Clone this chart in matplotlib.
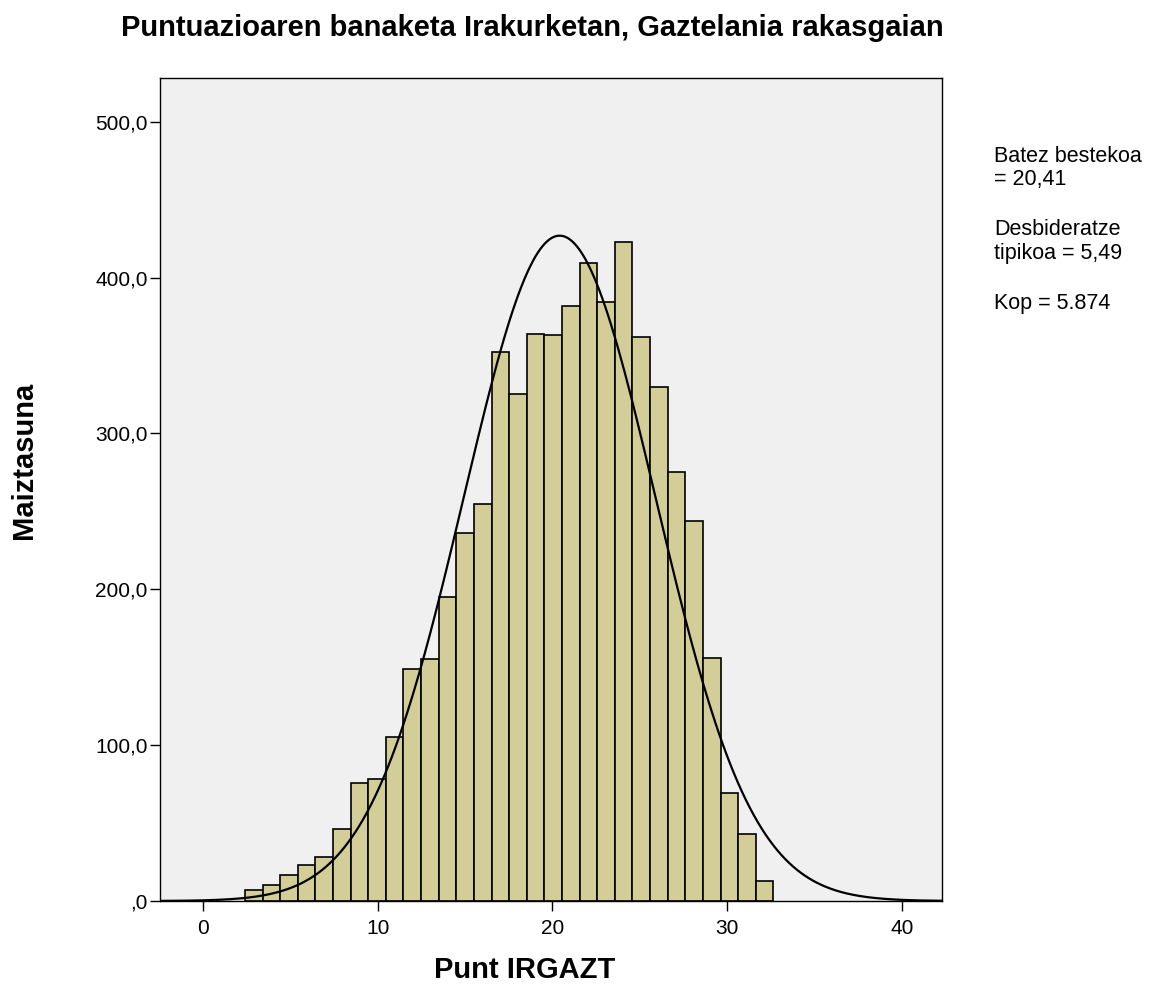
import numpy as np
import matplotlib.pyplot as plt

plt.rcParams['font.family'] = ['Liberation Sans', 'DejaVu Sans']

# frequencies per score bin (30 bins)
counts = [7, 10, 17, 23, 28, 46, 76, 78, 105, 149,
          155, 195, 236, 255, 352, 325, 364, 363, 382, 409,
          384, 423, 362, 330, 275, 244, 156, 69, 43, 13]
bin_start = 2.4
bin_width = 1.008

mean = 20.41
sd = 5.49
n = 5874

yticks = [0, 100, 200, 300, 400, 500]
ytick_labels = [',0', '100,0', '200,0', '300,0', '400,0', '500,0']
xticks = [0, 10, 20, 30, 40]

stats_lines = ['Batez bestekoa', '= 20,41', 'Desbideratze', 'tipikoa = 5,49', 'Kop = 5.874']

W, H = 1153, 991
fig = plt.figure(figsize=(W / 100, H / 100), dpi=100)
ax = fig.add_axes([160 / W, 1 - 901 / H, 782 / W, 823 / H])
ax.set_facecolor('#F0F0F0')

lefts = bin_start + bin_width * np.arange(len(counts))
ax.bar(lefts, counts, width=bin_width, align='edge', color='#D3CE97',
       edgecolor='black', linewidth=1.2)

# fitted normal curve
xs = np.linspace(-2.46, 42.3, 400)
curve = n * 1.0 / (sd * np.sqrt(2 * np.pi)) * np.exp(-0.5 * ((xs - mean) / sd) ** 2)
ax.plot(xs, curve, color='black', linewidth=1.6)

ax.set_xlim(-2.46, 42.29)
ax.set_ylim(0, 528)
ax.set_xticks(xticks)
ax.set_yticks(yticks)
ax.set_yticklabels(ytick_labels)
ax.tick_params(axis='both', direction='out', length=7, width=1, labelsize=15, colors='black')
ax.tick_params(axis='y', pad=2)
ax.tick_params(axis='x', pad=6)
for s in ax.spines.values():
    s.set_color('black')
    s.set_linewidth(1)

fig.text(532 / W, 1 - 36 / H, 'Puntuazioaren banaketa Irakurketan, Gaztelania rakasgaian',
         ha='center', va='baseline', fontsize=21, fontweight='bold')
fig.text(525 / W, 1 - 978 / H, 'Punt IRGAZT', ha='center', va='baseline',
         fontsize=21, fontweight='bold')
fig.text(24.5 / W, 1 - 460 / H, 'Maiztasuna', ha='center', va='center', rotation=90,
         fontsize=21, fontweight='bold')

for txt, base in zip(stats_lines, [162, 185, 235, 259, 309]):
    fig.text(994 / W, 1 - base / H, txt, fontsize=15.5, ha='left', va='baseline')

fig.savefig('out.png', dpi=100)
